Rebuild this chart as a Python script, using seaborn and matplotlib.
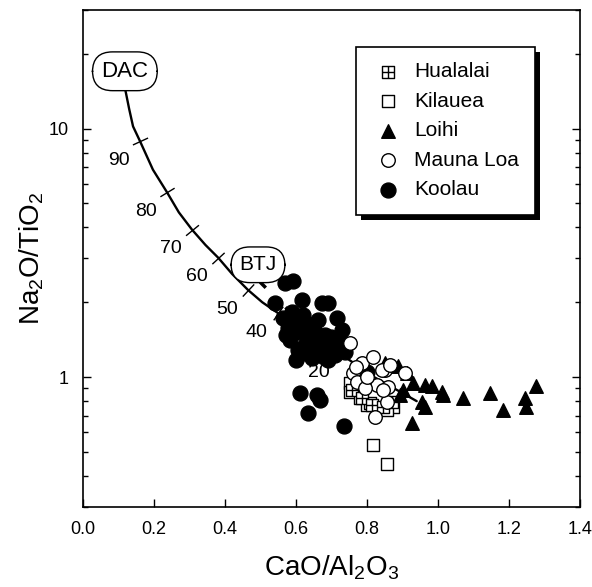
import numpy as np
import pandas as pd
import matplotlib
matplotlib.use("Agg")
import matplotlib.pyplot as plt
import matplotlib.patheffects as pe
from matplotlib.path import Path
from matplotlib.ticker import FixedLocator, FixedFormatter, LogLocator, NullFormatter
import seaborn as sns

# ==========================================
# Data
# ==========================================

hualalai_x = [0.758, 0.786, 0.814, 0.845, 0.870]
hualalai_y = [0.886, 0.823, 0.771, 0.760, 0.790]

kilauea_x = [0.752, 0.752, 0.780, 0.800, 0.842, 0.873, 0.808, 0.856, 0.817, 0.856]
kilauea_y = [0.946, 0.870, 0.820, 0.770, 0.750, 0.760, 0.785, 0.736, 0.532, 0.446]

loihi_x = [0.851, 0.887, 0.930, 0.963, 0.983, 1.011, 1.014, 0.955, 0.963, 0.927,
           1.070, 1.146, 1.183, 1.245, 1.248, 1.276, 0.901, 0.893, 0.913]
loihi_y = [1.14, 1.11, 0.946, 0.928, 0.92, 0.87, 0.846, 0.79, 0.757, 0.652,
           0.823, 0.862, 0.736, 0.823, 0.757, 0.92, 0.886, 0.846, 1.04]

mauna_loa_x = [0.752, 0.761, 0.786, 0.817, 0.851, 0.828, 0.859, 0.856, 0.822,
               0.772, 0.794, 0.907, 0.842, 0.865, 0.845, 0.800, 0.770]
mauna_loa_y = [1.37, 1.04, 1.14, 1.20, 1.07, 0.928, 0.911, 0.793, 0.690,
               0.955, 0.903, 1.04, 1.07, 1.12, 0.886, 1.00, 1.10]

koolau_x = [0.569, 0.592, 0.617, 0.541, 0.673, 0.690, 0.715,
            0.563, 0.577, 0.583, 0.597, 0.611, 0.625, 0.606,
            0.639, 0.654, 0.668, 0.645, 0.682, 0.696, 0.710,
            0.724, 0.730, 0.589, 0.620, 0.662, 0.690, 0.634,
            0.572, 0.600, 0.738,
            0.600, 0.650, 0.700, 0.620, 0.680, 0.715, 0.580, 0.655,
            0.611, 0.659, 0.668, 0.634, 0.735, 0.800]
koolau_y = [2.39, 2.44, 2.04, 1.99, 1.99, 1.99, 1.73,
            1.73, 1.58, 1.41, 1.70, 1.52, 1.35, 1.28,
            1.62, 1.44, 1.28, 1.19, 1.48, 1.35, 1.23,
            1.41, 1.55, 1.83, 1.78, 1.70, 1.17, 1.41,
            1.48, 1.17, 1.26,
            1.60, 1.55, 1.45, 1.25, 1.20, 1.32, 1.65, 1.35,
            0.86, 0.846, 0.81, 0.716, 0.634, 1.05]

# DAC - mixing curve
curve_x = [0.118, 0.130, 0.141, 0.161, 0.197, 0.237, 0.270, 0.307, 0.345,
           0.381, 0.420, 0.465, 0.505, 0.549, 0.630, 0.718, 0.820, 0.940]
curve_y = [14.6, 12.0, 10.2, 8.87, 6.83, 5.53, 4.60, 3.92, 3.40,
           3.02, 2.60, 2.24, 2.00, 1.81, 1.50, 1.26, 1.00, 0.80]

tick_x = [0.161, 0.237, 0.307, 0.381, 0.465, 0.549, 0.725]
tick_y = [8.87, 5.53, 3.92, 3.02, 2.24, 1.81, 1.24]
tick_labels = ["90", "80", "70", "60", "50", "40", "20"]

# BTJ dashed segment
btj_x = [0.499, 0.620]
btj_y = [2.41, 1.62]

legend_order = ["Hualalai", "Kilauea", "Loihi", "Mauna Loa", "Koolau"]

# ==========================================
# Long-form table
# ==========================================

df = pd.concat([
    pd.DataFrame({"volcano": "Kilauea", "cao_al2o3": kilauea_x, "na2o_tio2": kilauea_y}),
    pd.DataFrame({"volcano": "Hualalai", "cao_al2o3": hualalai_x, "na2o_tio2": hualalai_y}),
    pd.DataFrame({"volcano": "Koolau", "cao_al2o3": koolau_x, "na2o_tio2": koolau_y}),
    pd.DataFrame({"volcano": "Loihi", "cao_al2o3": loihi_x, "na2o_tio2": loihi_y}),
    pd.DataFrame({"volcano": "Mauna Loa", "cao_al2o3": mauna_loa_x, "na2o_tio2": mauna_loa_y}),
], ignore_index=True)

# square with a cross inside
box_plus = Path(
    [(-1, -1), (1, -1), (1, 1), (-1, 1), (-1, -1), (0, -1), (0, 1), (-1, 0), (1, 0)],
    [Path.MOVETO, Path.LINETO, Path.LINETO, Path.LINETO, Path.CLOSEPOLY,
     Path.MOVETO, Path.LINETO, Path.MOVETO, Path.LINETO],
)

styles = {
    "Kilauea": ("s", 75, "white"),
    "Hualalai": (box_plus, 80, "white"),
    "Koolau": ("o", 115, "black"),
    "Loihi": ("^", 95, "black"),
    "Mauna Loa": ("o", 95, "white"),
}

# ==========================================
# Figure
# ==========================================

sns.set_theme(style="ticks")
plt.rcParams["font.family"] = ["Liberation Sans", "DejaVu Sans"]
plt.rcParams["mathtext.default"] = "regular"
plt.rcParams["text.color"] = "black"
plt.rcParams["axes.labelcolor"] = "black"
plt.rcParams["xtick.labelcolor"] = "black"
plt.rcParams["ytick.labelcolor"] = "black"

fig = plt.figure(figsize=(5.92, 5.87), dpi=100)
ax = fig.add_axes([0.1402, 0.1363, 0.8395, 0.8467])
ax.set_yscale("log")
ax.set_xlim(0, 1.4)
ax.set_ylim(0.3, 30)

# mixing curve
sns.lineplot(x=curve_x, y=curve_y, sort=False, estimator=None,
             color="black", linewidth=1.7, ax=ax, zorder=2)

sns.lineplot(x=btj_x, y=btj_y, sort=False, estimator=None, color="black",
             linewidth=2.5, dashes=False, ax=ax, zorder=2)
ax.lines[-1].set_dashes((2.3, 8))
ax.lines[-1].set_dash_capstyle("butt")

# ticks on the curve, perpendicular to it
disp = ax.transData.transform(np.column_stack([curve_x, curve_y]))
for tx, ty, lab in zip(tick_x, tick_y, tick_labels):
    p = ax.transData.transform((tx, ty))
    i = np.argmin(np.hypot(*(disp - p).T))
    j = min(i + 1, len(disp) - 1)
    k = max(i - 1, 0)
    dx, dy = disp[j] - disp[k]
    ang = np.degrees(np.arctan2(dy, dx))
    ax.plot(tx, ty, marker=(2, 0, ang), markersize=12, markeredgewidth=1,
            color="black", zorder=2)
    ax.annotate(lab, (tx, ty), xytext=(-21, -19), textcoords="offset pixels",
                ha="center", va="center", fontsize=14, zorder=2)

# scatter points
for name, sub in df.groupby("volcano", sort=False):
    marker, size, fc = styles[name]
    sns.scatterplot(data=sub, x="cao_al2o3", y="na2o_tio2", marker=marker, s=size,
                    color=fc, edgecolor="black", linewidth=1, ax=ax, label=name,
                    zorder=3)

# end-member labels
box = dict(boxstyle="round,pad=0.4,rounding_size=0.9", fc="white", ec="black", lw=1)
ax.text(0.118, 17.0, "DAC", fontsize=16, ha="center", va="center", bbox=box, zorder=5)
ax.text(0.493, 2.83, "BTJ", fontsize=15, ha="center", va="center", bbox=box, zorder=5)

# axes styling
ax.xaxis.set_major_locator(FixedLocator(np.arange(0, 1.41, 0.2)))
ax.xaxis.set_major_formatter(FixedFormatter(["0.0", "0.2", "0.4", "0.6", "0.8", "1.0", "1.2", "1.4"]))
ax.yaxis.set_major_locator(FixedLocator([1, 10]))
ax.yaxis.set_major_formatter(FixedFormatter(["1", "10"]))
ax.yaxis.set_minor_locator(LogLocator(base=10, subs=np.arange(2, 10)))
ax.yaxis.set_minor_formatter(NullFormatter())
ax.tick_params(which="both", direction="in", right=True, top=False, color="black",
               width=1, labelsize=13, pad=10)
ax.tick_params(which="major", length=5.5)
ax.tick_params(which="minor", length=3.5)
for s in ax.spines.values():
    s.set_color("black")
    s.set_linewidth(1.2)

ax.set_xlabel("CaO/Al$_2$O$_3$", fontsize=20, labelpad=11)
ax.set_ylabel("Na$_2$O/TiO$_2$", fontsize=20, labelpad=2)

# legend
handles, labels = ax.get_legend_handles_labels()
lookup = dict(zip(labels, handles))
leg = ax.legend([lookup[n] for n in legend_order], legend_order,
                loc="upper right", bbox_to_anchor=(0.909, 0.926), borderaxespad=0,
                fontsize=15, frameon=True, fancybox=False, framealpha=1,
                edgecolor="black", borderpad=0.75, labelspacing=0.5,
                handlelength=1.6, handletextpad=0.45)
leg.get_frame().set_linewidth(1.2)
leg.get_frame().set_path_effects([
    pe.SimplePatchShadow(offset=(3.5, -3.5), shadow_rgbFace="black", alpha=1),
    pe.Normal(),
])

plt.savefig("out.png", dpi=100)
